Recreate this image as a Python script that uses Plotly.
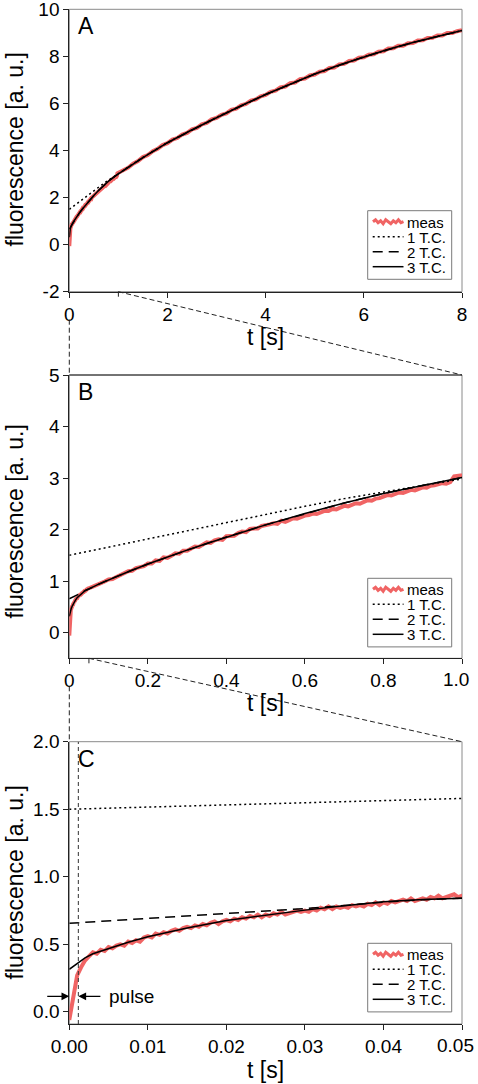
import plotly.graph_objects as go

W, H = 478, 1084

# ---------------- data ----------------
# measured trace, three sampling segments (start, step, values)
meas_c_start, meas_c_step = 0.0, 0.0005
meas_c = [-0.06, 0.10, 0.27, 0.33, 0.38, 0.41, 0.44, 0.43, 0.46, 0.45,
          0.48, 0.47, 0.49, 0.50, 0.49, 0.52, 0.51, 0.53, 0.52, 0.55,
          0.56, 0.55, 0.58, 0.57, 0.59, 0.58, 0.60, 0.61, 0.60, 0.62,
          0.63, 0.62, 0.64, 0.63, 0.65, 0.64, 0.66, 0.67, 0.65, 0.67,
          0.68, 0.67, 0.69, 0.68, 0.70, 0.69, 0.71, 0.70, 0.72, 0.70,
          0.72, 0.71, 0.73, 0.72, 0.74, 0.72, 0.73, 0.74, 0.75, 0.74,
          0.75, 0.74, 0.76, 0.75, 0.77, 0.76, 0.78, 0.76, 0.78, 0.77,
          0.78, 0.77, 0.79, 0.78, 0.79, 0.78, 0.80, 0.79, 0.81, 0.79,
          0.81, 0.80, 0.82, 0.81, 0.82, 0.83, 0.82, 0.84, 0.82, 0.83,
          0.84, 0.83, 0.85, 0.84, 0.86, 0.84, 0.85, 0.86, 0.87, 0.85,
          0.86]
meas_b_start, meas_b_step = 0.06, 0.01
meas_b = [0.89, 0.92, 0.94, 0.99, 1.03, 1.04, 1.08, 1.12, 1.14, 1.19,
          1.20, 1.25, 1.27, 1.29, 1.34, 1.34, 1.40, 1.39, 1.46, 1.45,
          1.49, 1.54, 1.53, 1.59, 1.59, 1.62, 1.67, 1.66, 1.71, 1.75,
          1.74, 1.79, 1.81, 1.80, 1.87, 1.88, 1.88, 1.93, 1.96, 1.95,
          2.01, 2.02, 2.02, 2.07, 2.08, 2.10, 2.12, 2.11, 2.17, 2.15,
          2.18, 2.22, 2.21, 2.25, 2.27, 2.28, 2.31, 2.30, 2.34, 2.36,
          2.36, 2.40, 2.39, 2.43, 2.46, 2.45, 2.49, 2.51, 2.50, 2.54,
          2.57, 2.56, 2.60, 2.61, 2.64, 2.67, 2.66, 2.70, 2.72, 2.71,
          2.75, 2.77, 2.76, 2.80, 2.82, 2.81, 2.85, 2.86, 2.88, 2.90,
          2.89, 2.92, 3.03, 3.04, 3.04]
meas_a_start, meas_a_step = 1.1, 0.1
meas_a = [3.17, 3.27, 3.44, 3.55, 3.72, 3.81, 3.97, 4.07, 4.23, 4.31,
          4.46, 4.53, 4.68, 4.75, 4.90, 4.96, 5.11, 5.17, 5.32, 5.38,
          5.52, 5.58, 5.73, 5.78, 5.92, 5.98, 6.12, 6.17, 6.30, 6.36,
          6.49, 6.54, 6.68, 6.72, 6.86, 6.89, 7.03, 7.06, 7.19, 7.23,
          7.35, 7.38, 7.51, 7.53, 7.66, 7.68, 7.80, 7.82, 7.94, 7.96,
          8.07, 8.09, 8.20, 8.22, 8.33, 8.34, 8.45, 8.45, 8.56, 8.57,
          8.67, 8.68, 8.78, 8.79, 8.89, 8.89, 8.99, 8.99, 9.07, 9.11]

fit1_t = [0, 0.0125, 0.025, 0.0375, 0.05, 0.1, 0.2, 0.3, 0.4, 0.5, 0.6, 0.7,
          0.8, 0.9, 1.0, 1.5, 2, 2.5, 3, 4, 5, 6, 7, 8]
fit1_y = [1.50, 1.52, 1.54, 1.559, 1.578, 1.66, 1.82, 1.98, 2.14, 2.30, 2.45, 2.60,
          2.74, 2.88, 3.02, 3.71, 4.34, 4.89, 5.41, 6.38, 7.25, 7.98, 8.59, 9.10]

fit2_t = [0, 0.01, 0.02, 0.03, 0.035, 0.04, 0.045, 0.05, 0.075, 0.1, 0.15, 0.2,
          0.3, 0.4, 0.5, 0.6, 0.7, 0.8, 0.9, 1.0, 1.5, 2, 3, 4, 5, 6, 7, 8]
fit2_y = [0.655, 0.69, 0.726, 0.765, 0.787, 0.812, 0.83, 0.847, 0.94, 1.025, 1.18, 1.33,
          1.60, 1.855, 2.09, 2.31, 2.515, 2.70, 2.86, 3.01, 3.70, 4.33, 5.40, 6.38,
          7.25, 7.98, 8.59, 9.10]

fit3_t = [0, 0.001, 0.002, 0.003, 0.005, 0.0075, 0.01, 0.015, 0.02, 0.025, 0.03,
          0.035, 0.04, 0.045, 0.05, 0.075, 0.1, 0.15, 0.2, 0.25, 0.3, 0.35, 0.4,
          0.45, 0.5, 0.6, 0.7, 0.8, 0.9, 1.0, 1.5, 2, 2.5, 3, 3.5, 4, 4.5, 5, 5.5,
          6, 6.5, 7, 7.5, 8]
fit3_y = [0.315, 0.36, 0.40, 0.43, 0.47, 0.515, 0.556, 0.62, 0.677, 0.716, 0.753,
          0.785, 0.815, 0.832, 0.847, 0.94, 1.025, 1.18, 1.33, 1.47, 1.60, 1.73, 1.855,
          1.975, 2.09, 2.31, 2.515, 2.70, 2.86, 3.01, 3.70, 4.33, 4.88, 5.40, 5.90,
          6.38, 6.83, 7.25, 7.63, 7.98, 8.30, 8.59, 8.86, 9.10]

legend_labels = ["meas", "1 T.C.", "2 T.C.", "3 T.C."]
panel_letters = ["A", "B", "C"]
x_ranges = [[0, 8], [0, 1], [0, 0.05]]
y_ranges = [[-2, 10], [-0.5, 5], [-0.09, 2.0]]
x_tickvals = [[0, 2, 4, 6, 8], [0, 0.2, 0.4, 0.6, 0.8, 1.0],
              [0, 0.01, 0.02, 0.03, 0.04, 0.05]]
x_ticktext = [["0", "2", "4", "6", "8"], ["0", "0.2", "0.4", "0.6", "0.8", "1.0"],
              ["0.00", "0.01", "0.02", "0.03", "0.04", "0.05"]]
y_tickvals = [[-2, 0, 2, 4, 6, 8, 10], [0, 1, 2, 3, 4, 5], [0, 0.5, 1.0, 1.5, 2.0]]
y_ticktext = [["-2", "0", "2", "4", "6", "8", "10"], ["0", "1", "2", "3", "4", "5"],
              ["0.0", "0.5", "1.0", "1.5", "2.0"]]
zoom_end_t = [1.0, 0.05]          # part of panel i shown magnified in panel i+1
pulse_t = [0.0, 0.00115]          # pulse start / end (panel C)
pulse_y = 0.115
x_title = "t [s]"
y_title = "fluorescence [a. u.]"


def seg_t(start, step, vals):
    return [round(start + i * step, 6) for i in range(len(vals))]


meas_t = (seg_t(meas_c_start, meas_c_step, meas_c)
          + seg_t(meas_b_start, meas_b_step, meas_b)
          + seg_t(meas_a_start, meas_a_step, meas_a))
meas_y = meas_c + meas_b + meas_a

# ---------------- layout geometry (window pixels) ----------------
FONT = "Liberation Sans, Arial, sans-serif"
RED = "#F06464"
plot_x_px = (69.3, 462.0)
panels_px = [(9.3, 291.7), (375.0, 658.3), (741.7, 1024.0)]
ytitle_cy = [150, 522, 883]
xtitle_cy = [337, 703, 1070]
legend_top = [210.7, 578.3, 943.3]
last_label_right = [None, 471.0, 476.0]   # last x label pulled inside the window


def PX(px):
    return px / W


def PY(py):
    return 1 - py / H


xdom = [PX(plot_x_px[0]), PX(plot_x_px[1])]

fig = go.Figure()
styles = [
    dict(color=RED, width=4),
    dict(color="black", width=1.5, dash="2px,3px"),
    dict(color="black", width=1.5, dash="10px,6px"),
    dict(color="black", width=1.5),
]
series = [(meas_t, meas_y), (fit1_t, fit1_y), (fit2_t, fit2_y), (fit3_t, fit3_y)]

shapes = []
annotations = []
tick_font = dict(family=FONT, size=19, color="black")
for i in range(3):
    sfx = "" if i == 0 else str(i + 1)
    xa, ya = "x" + sfx, "y" + sfx
    top, bot = panels_px[i]
    for (tx, ty), st, name in zip(series, styles, legend_labels):
        fig.add_trace(go.Scatter(x=tx, y=ty, mode="lines", line=st, name=name,
                                 showlegend=False, xaxis=xa, yaxis=ya,
                                 hoverinfo="skip"))
    common = dict(showgrid=False, zeroline=False, showline=True, linecolor="#222",
                  linewidth=1, ticks="outside", ticklen=5, tickwidth=1, tickcolor="#222",
                  tickmode="array", automargin=False, ticklabeloverflow="allow",
                  tickfont=tick_font)
    xt = list(x_ticktext[i])
    if last_label_right[i] is not None:
        annotations.append(dict(text=xt[-1], xref="paper", yref="paper",
                                x=PX(last_label_right[i]), y=PY(bot + 21.5),
                                xanchor="right", yanchor="middle", showarrow=False,
                                font=tick_font))
        xt[-1] = ""
    fig.update_layout({
        "xaxis" + sfx: dict(common, domain=xdom, anchor=ya, range=x_ranges[i],
                            tickvals=x_tickvals[i], ticktext=xt),
        "yaxis" + sfx: dict(common, domain=[PY(bot), PY(top)], anchor=xa,
                            range=y_ranges[i], tickvals=y_tickvals[i],
                            ticktext=y_ticktext[i]),
    })
    # gray frame (top/right)
    shapes.append(dict(type="rect", xref="paper", yref="paper", x0=xdom[0], x1=xdom[1],
                       y0=PY(bot), y1=PY(top), line=dict(color="#8a8a8a", width=1),
                       layer="below"))
    # panel letter
    annotations.append(dict(text=panel_letters[i], xref="paper", yref="paper",
                            x=PX(76), y=PY(top + 17), xanchor="left", yanchor="middle",
                            showarrow=False, font=dict(family=FONT, size=23, color="black")))
    # axis titles
    annotations.append(dict(text=y_title, xref="paper", yref="paper", x=PX(14.5),
                            y=PY(ytitle_cy[i]), textangle=-90, xanchor="center",
                            yanchor="middle", showarrow=False,
                            font=dict(family=FONT, size=23, color="black")))
    annotations.append(dict(text=x_title, xref="paper", yref="paper",
                            x=(xdom[0] + xdom[1]) / 2, y=PY(xtitle_cy[i]),
                            xanchor="center", yanchor="middle", showarrow=False,
                            font=dict(family=FONT, size=23, color="black")))
    # legend box
    lt = legend_top[i]
    shapes.append(dict(type="rect", xref="paper", yref="paper", x0=PX(367.7), x1=PX(451.7),
                       y0=PY(lt + 68.6), y1=PY(lt), line=dict(color="#7a7a7a", width=1),
                       fillcolor="white", layer="above"))
    for k, (lab, st) in enumerate(zip(legend_labels, styles)):
        cy = lt + 11 + 15 * k
        if k == 0:
            # noisy red sample for the measured trace
            zig = [0, -2, 1, -1, 2, -2, 0, 2, -1, 1, -2, 1, 0]
            n = len(zig) - 1
            pts = ["%s%.5f,%.5f" % ("M" if j == 0 else "L",
                                     PX(373 + 30.5 * j / n), PY(cy + zig[j]))
                   for j in range(n + 1)]
            shapes.append(dict(type="path", xref="paper", yref="paper", path=" ".join(pts),
                               line=dict(color=RED, width=3), layer="above"))
        else:
            shapes.append(dict(type="line", xref="paper", yref="paper", x0=PX(372.7),
                               x1=PX(403.5), y0=PY(cy), y1=PY(cy), line=st, layer="above"))
        annotations.append(dict(text=lab, xref="paper", yref="paper", x=PX(405.5), y=PY(cy),
                                xanchor="left", yanchor="middle", showarrow=False,
                                height=14, valign="middle", borderpad=0,
                                font=dict(family=FONT, size=15, color="black")))

# zoom connectors between panels
for i in range(2):
    top, bot = panels_px[i]
    ntop = panels_px[i + 1][0]
    xe = xdom[0] + zoom_end_t[i] / x_ranges[i][1] * (xdom[1] - xdom[0])
    dash = dict(color="#222", width=1, dash="5px,3px")
    shapes.append(dict(type="line", xref="paper", yref="paper", x0=xdom[0], x1=xdom[0],
                       y0=PY(bot + 28), y1=PY(ntop), line=dash))
    shapes.append(dict(type="line", xref="paper", yref="paper", x0=xe, x1=xdom[1],
                       y0=PY(bot), y1=PY(ntop), line=dash))
    shapes.append(dict(type="line", xref="paper", yref="paper", x0=xe, x1=xe,
                       y0=PY(bot), y1=PY(bot + 5), line=dict(color="#222", width=1)))
# top of panel B drawn dark
shapes.append(dict(type="line", xref="paper", yref="paper", x0=xdom[0], x1=xdom[1],
                   y0=PY(panels_px[1][0]), y1=PY(panels_px[1][0]),
                   line=dict(color="#222", width=1)))

# pulse marker in panel C
shapes.append(dict(type="line", xref="x3", yref="y3", x0=pulse_t[1], x1=pulse_t[1],
                   y0=y_ranges[2][0], y1=y_ranges[2][1],
                   line=dict(color="#333", width=1, dash="4px,3px")))
annotations.append(dict(text="", xref="x3", yref="y3", x=pulse_t[0], y=pulse_y,
                        axref="x3", ayref="y3", ax=pulse_t[0] - 0.003, ay=pulse_y,
                        showarrow=True, arrowhead=2, arrowsize=1.3, arrowwidth=1.2,
                        arrowcolor="black"))
annotations.append(dict(text="", xref="x3", yref="y3", x=pulse_t[1], y=pulse_y,
                        axref="x3", ayref="y3", ax=pulse_t[1] + 0.003, ay=pulse_y,
                        showarrow=True, arrowhead=2, arrowsize=1.3, arrowwidth=1.2,
                        arrowcolor="black"))
annotations.append(dict(text="pulse", xref="x3", yref="y3", x=pulse_t[1] + 0.0036,
                        y=pulse_y, xanchor="left", yanchor="middle", showarrow=False,
                        font=dict(family=FONT, size=19, color="black")))

fig.update_layout(width=W, height=H, margin=dict(l=0, r=0, t=0, b=0),
                  paper_bgcolor="white", plot_bgcolor="white", showlegend=False,
                  shapes=shapes, annotations=annotations)
# remove the browser's default 8px page margin so the figure fills the window
fig.write_html("out.html", config={"displayModeBar": False},
               post_script="document.body.style.margin='0';"
                           "document.body.style.overflow='hidden';")
